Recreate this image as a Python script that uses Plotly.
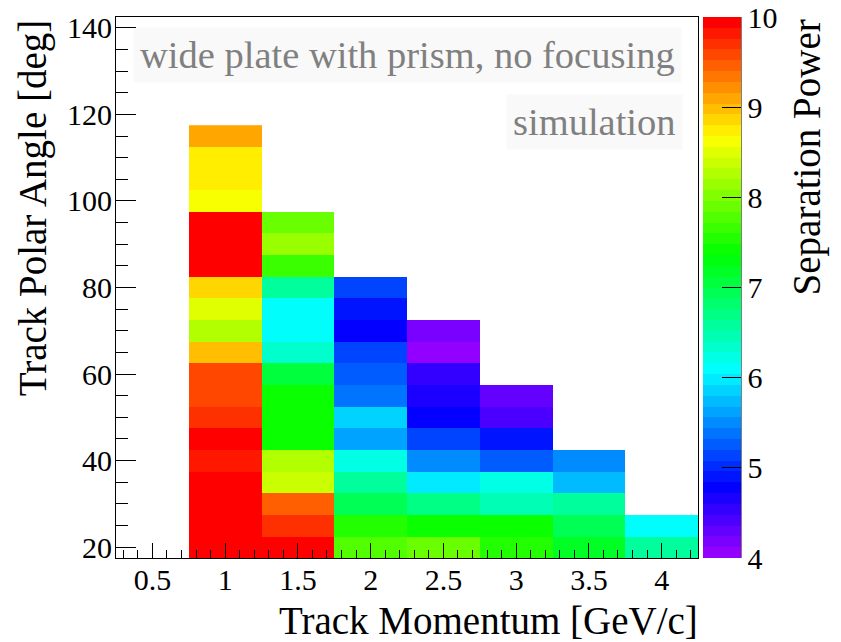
import colorsys
import plotly.graph_objects as go

# ---------------- data ----------------
momentum = [0.5, 1.0, 1.5, 2.0, 2.5, 3.0, 3.5, 4.0]          # GeV/c (bin centres)
angle = [20, 25, 30, 35, 40, 45, 50, 55, 60, 65,
         70, 75, 80, 85, 90, 95, 100, 105, 110, 115]         # deg (bin centres)

# separation power per momentum bin, listed from angle 20 upward
sep_p05 = []
sep_p10 = [10, 10, 10, 10, 9.82, 10, 9.70, 9.58, 9.58, 8.98,
           8.26, 8.50, 8.86, 10, 10, 10, 8.62, 8.74, 8.74, 9.10]
sep_p15 = [10, 9.70, 9.46, 8.38, 8.26, 7.42, 7.42, 7.42, 7.06, 6.34,
           6.10, 6.10, 6.58, 7.66, 8.14, 7.90]
sep_p20 = [7.78, 7.54, 6.94, 6.58, 6.22, 5.62, 5.86, 5.38, 5.26, 5.14,
           4.78, 4.90, 5.14]
sep_p25 = [7.90, 7.42, 6.70, 5.98, 5.50, 5.14, 4.78, 4.66, 4.54, 4.06, 4.18]
sep_p30 = [7.54, 7.42, 6.46, 6.22, 5.26, 4.90, 4.42, 4.30]
sep_p35 = [7.18, 6.94, 6.58, 5.74, 5.50]
sep_p40 = [6.58, 6.10]

columns = [sep_p05, sep_p10, sep_p15, sep_p20, sep_p25, sep_p30, sep_p35, sep_p40]
z = [[col[i] if i < len(col) else None for col in columns] for i in range(len(angle))]

z_min, z_max = 4, 10
n_colors = 50

# ROOT "pretty" rainbow palette (50 colours)
pal = []
for k in range(n_colors):
    if k == n_colors - 1:
        r, g, b = 1.0, 0.0, 0.0
    else:
        hue = 280 - (k + 1) * (280 / n_colors)
        r, g, b = colorsys.hls_to_rgb(hue / 360.0, 0.5, 1.0)
    pal.append(f"rgb({round(r*255)},{round(g*255)},{round(b*255)})")
colorscale = []
for k, c in enumerate(pal):
    colorscale.append([k / n_colors, c])
    colorscale.append([(k + 1) / n_colors, c])

FONT = "Liberation Serif"

fig = go.Figure()
fig.add_trace(go.Heatmap(
    x=momentum, y=angle, z=z,
    zmin=z_min, zmax=z_max,
    colorscale=colorscale,
    hoverongaps=False,
    colorbar=dict(
        x=1.0086, xanchor="left", xpad=0,
        y=0.5, yanchor="middle", len=1, lenmode="fraction", ypad=0,
        thickness=38, thicknessmode="pixels",
        outlinewidth=0,
        ticks="inside", ticklen=19, tickwidth=1, tickcolor="black",
        tickvals=[4, 5, 6, 7, 8, 9, 10],
        tickfont=dict(family=FONT, size=30, color="black"),
    ),
))

axis_common = dict(
    showgrid=False, zeroline=False,
    showline=True, linecolor="black", linewidth=1, mirror=True,
    ticks="inside", tickcolor="black", tickwidth=1,
    tickfont=dict(family=FONT, size=30, color="black"),
)

fig.update_xaxes(
    range=[0.25, 4.25], tick0=0, dtick=0.5, ticklen=15,
    ticklabelstandoff=-5,
    minor=dict(ticks="inside", dtick=0.1, tick0=0, ticklen=8,
               tickcolor="black", tickwidth=1, showgrid=False),
    **axis_common,
)
fig.update_yaxes(
    range=[17.5, 142.5], tick0=0, dtick=20, ticklen=20,
    ticklabelstandoff=-3,
    minor=dict(ticks="inside", dtick=5, tick0=0, ticklen=12,
               tickcolor="black", tickwidth=1, showgrid=False),
    **axis_common,
)

title_font = dict(family=FONT, size=39, color="black")
fig.add_annotation(text="Track Momentum [GeV/c]", xref="paper", yref="paper",
                   x=1.003, y=-0.115, xanchor="right", yanchor="middle",
                   showarrow=False, font=title_font)
fig.add_annotation(text="Track Polar Angle [deg]", xref="paper", yref="paper",
                   x=-0.143, y=1.0, xanchor="center", yanchor="top",
                   textangle=-90, showarrow=False, font=title_font)
fig.add_annotation(text="Separation Power", xref="paper", yref="paper",
                   x=1.188, y=1.0, xanchor="center", yanchor="top",
                   textangle=-90, showarrow=False, font=title_font)

label_font = dict(family=FONT, size=38.5, color="#808080")
fig.add_annotation(text="wide plate with prism, no focusing", xref="paper", yref="paper",
                   x=0.972, y=0.929, xanchor="right", yanchor="middle",
                   showarrow=False, font=label_font,
                   bgcolor="rgba(200,200,200,0.10)", borderpad=6)
fig.add_annotation(text="simulation", xref="paper", yref="paper",
                   x=0.975, y=0.806, xanchor="right", yanchor="middle",
                   showarrow=False, font=label_font,
                   bgcolor="rgba(200,200,200,0.10)", borderpad=6)

# palette axis line on right side of the colour bar
fig.add_shape(type="line", xref="paper", yref="paper",
              x0=1.0086 + 38 / 582, x1=1.0086 + 38 / 582, y0=0, y1=1,
              line=dict(color="black", width=1))

fig.update_layout(
    width=841, height=642,
    margin=dict(l=116, r=143, t=17, b=84),
    paper_bgcolor="white", plot_bgcolor="white",
    showlegend=False,
)

fig.write_html("out.html")
